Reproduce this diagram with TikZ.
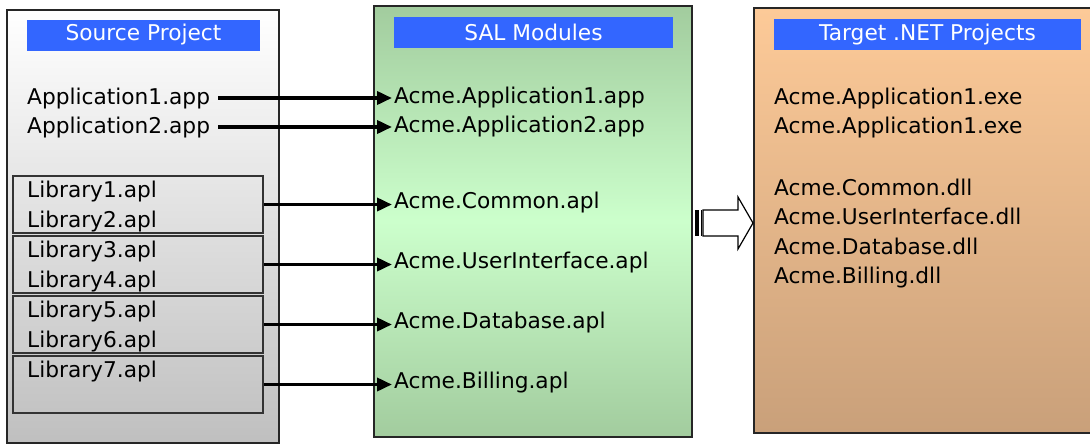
\documentclass[tikz,border=0pt]{standalone}
\usepackage{fontspec}
\setmainfont{DejaVu Sans}
\usetikzlibrary{positioning,arrows.meta}
\definecolor{titleblue}{HTML}{3366FF}
\definecolor{salgreen}{HTML}{CCFFCC}
\definecolor{saldark}{HTML}{A2CC9E}
\definecolor{peachtop}{HTML}{FDCA98}
\definecolor{peachbot}{HTML}{C9A07A}
\newcommand{\itemfont}{\fontsize{21.7}{26}\selectfont}
\tikzset{
  panel/.style={draw=black!85, line width=1.5pt, inner sep=0pt},
  title bar/.style={fill=titleblue, text=white, minimum height=31pt, inner sep=0pt, font=\itemfont},
  item/.style={anchor=west, inner sep=0pt, text height=16pt, text depth=4pt, font=\itemfont},
  libbox/.style={draw=black!80, line width=1.5pt, minimum width=250pt, minimum height=57pt, inner sep=0pt},
  conn/.style={-{Triangle[length=15pt,width=13pt]}, line width=3.6pt, shorten >=2pt},
}

\begin{document}
\begin{tikzpicture}[x=1pt, y=-1pt]
        \useasboundingbox (0,0) rectangle (1090,445);
        % Panels
        \node[panel, top color=white, bottom color=black!25, minimum width=272pt, minimum height=433pt] (src) at (143,226.5) {};
        \node[panel, top color=saldark, bottom color=saldark, middle color=salgreen, minimum width=318pt, minimum height=431pt] (sal) at (533,221.5) {};
        \node[panel, top color=peachtop, bottom color=peachbot, minimum width=339pt, minimum height=425pt] (tgt) at (923.5,220.5) {};
        % Titles
        \node[title bar, minimum width=233pt] (srctitle) at (143.5,35) {Source Project};
        \node[title bar, minimum width=279pt] (saltitle) at (533.5,32.5) {SAL Modules};
        \node[title bar, minimum width=307pt] (tgttitle) at (927.5,34.5) {Target .NET Projects};
        % Source project
        \node[item] (app1) at (27,98) {Application1.app};
        \node[item] (app2) at (27,127) {Application2.app};
        \foreach \i in {1,...,7}
            \node[item] (lib\i) at (27,161+30*\i) {Library\i.apl};
        \foreach \j in {1,...,4}
            \node[libbox] (grp\j) at (138,144.5+60*\j) {};
        % SAL modules
        \node[item] (salapp1) at (394,97) {Acme.Application1.app};
        \node[item] (salapp2) at (394,126) {Acme.Application2.app};
        \node[item] (common) at (394,202.5) {Acme.Common.apl};
        \node[item] (ui) at (394,262.5) {Acme.UserInterface.apl};
        \node[item] (db) at (394,322.5) {Acme.Database.apl};
        \node[item] (billing) at (394,382.5) {Acme.Billing.apl};
        % Target projects
        \node[item] (exe1) at (774,98) {Acme.Application1.exe};
        \node[item] (exe2) at (774,127) {Acme.Application1.exe};
        \node[item] (dll1) at (774,189) {Acme.Common.dll};
        \node[item] (dll2) at (774,218.5) {Acme.UserInterface.dll};
        \node[item] (dll3) at (774,248) {Acme.Database.dll};
        \node[item] (dll4) at (774,277.5) {Acme.Billing.dll};
        % Paths
        \draw[conn, shorten <=8pt] (app1.east) -- (app1.east -| salapp1.west);
        \draw[conn, shorten <=8pt] (app2.east) -- (app2.east -| salapp2.west);
        \draw[conn] (grp1.east) -- (grp1.east -| common.west);
        \draw[conn] (grp2.east) -- (grp2.east -| ui.west);
        \draw[conn] (grp3.east) -- (grp3.east -| db.west);
        \draw[conn] (grp4.east) -- (grp4.east -| billing.west);
        % Conversion arrow
        \fill (695,210) rectangle (699,236);
        \draw[line width=0.8pt] (701,210) -- (701,236);
        \draw[fill=white, line width=1.2pt] (703,210) -- (738,210) -- (738,197) -- (753,223)
            -- (738,249) -- (738,236) -- (703,236) -- cycle;
    \end{tikzpicture}
\end{document}
